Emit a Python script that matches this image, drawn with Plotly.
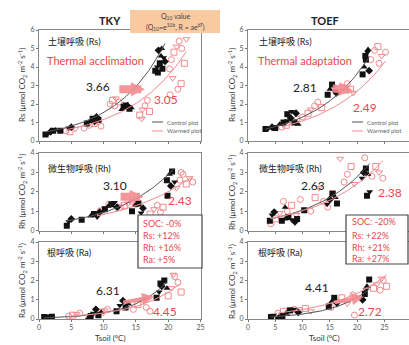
import numpy as np
import plotly.graph_objects as go

W, H = 409, 345

# ---------------- data ----------------
sites = ["TKY", "TOEF"]
components = ["Rs", "Rh", "Ra"]

tky_rs_ctrl_T = [1.0,1.4,1.8,2.2,2.6,3.3,4.6,5.0,7.4,7.9,8.3,8.6,8.9,9.2,12.8,13.1,13.4,13.7,14.0,14.3,18.0,18.3,18.5,18.7,18.9,19.1,19.3,19.5,18.4,19.0]
tky_rs_ctrl_R = [0.35,0.4,0.5,0.55,0.6,0.55,0.7,0.75,0.95,1.05,1.2,1.0,1.3,1.15,1.7,1.85,2.0,1.9,1.75,1.8,3.8,4.0,4.9,4.2,4.6,3.9,4.5,4.3,3.7,5.0]
tky_rs_warm_T = [4.2,4.8,5.6,7.0,7.8,8.5,9.2,9.6,11.0,11.4,11.9,12.4,11.7,15.6,16.0,16.4,16.8,17.1,15.9,20.2,20.5,20.9,21.3,21.7,22.1,22.5,20.7,21.5,20.3,22.0,22.8]
tky_rs_warm_R = [0.55,0.5,0.65,0.7,0.85,0.95,1.0,0.8,2.0,2.2,2.3,2.1,1.9,1.4,1.7,1.9,2.2,1.6,1.2,3.9,4.4,4.8,5.1,5.4,5.0,4.2,3.4,2.8,2.5,3.1,5.5]

toef_rs_ctrl_T = [3.2,3.8,4.4,5.0,5.8,6.5,7.2,7.8,8.5,9.2,7.2,8.0,8.8,14.6,15.0,15.4,15.8,16.2,21.0,21.3,21.6,21.9,22.2,21.5,22.0]
toef_rs_ctrl_R = [0.65,0.7,0.75,0.7,0.9,1.0,1.1,1.25,1.0,0.9,1.45,1.6,1.5,2.5,2.8,3.05,2.7,2.6,3.6,4.0,4.4,4.8,3.8,4.6,4.95]
toef_rs_warm_T = [6.2,7.0,8.0,9.0,10.0,11.0,11.5,12.2,12.8,13.5,16.8,17.5,18.2,18.8,19.3,22.5,23.2,23.8,24.5,25.2,24.0]
toef_rs_warm_R = [0.75,0.85,1.0,1.2,1.3,1.5,1.7,1.9,2.1,1.8,2.7,2.9,3.1,2.8,2.6,4.4,4.9,5.1,4.6,4.8,4.2]

tky_rh_ctrl_T = [4.3,4.6,5.0,6.6,8.0,8.5,9.0,9.4,10.2,10.7,11.2,11.7,12.1,14.4,14.9,15.4,15.8,16.1,19.8,20.2,20.6,21.0,20.4,19.9]
tky_rh_ctrl_R = [0.25,0.45,0.6,0.55,0.75,0.85,0.7,0.95,1.1,1.25,1.35,1.45,1.2,1.0,1.3,1.4,0.9,1.15,2.6,2.9,3.05,2.5,2.3,1.8]
tky_rh_warm_T = [9.0,9.6,10.2,10.8,12.6,13.2,13.8,14.4,15.0,17.2,17.8,18.3,18.8,19.2,21.3,21.8,22.3,22.8,23.3,23.8,22.0]
tky_rh_warm_R = [0.8,1.0,1.15,1.35,1.2,1.3,1.4,1.5,1.35,0.85,1.1,1.3,0.95,1.2,2.2,2.6,2.9,2.4,2.7,2.5,3.0]

toef_rh_ctrl_T = [4.0,4.4,4.8,6.2,6.8,7.4,8.0,8.6,9.0,6.8,10.3,14.5,15.0,15.5,16.0,16.3,20.9,21.2,21.6,22.0,21.8,22.3]
toef_rh_ctrl_R = [0.5,0.8,0.95,0.5,0.6,0.7,0.55,0.45,0.6,1.2,1.05,1.35,1.6,1.9,1.7,1.4,2.7,3.0,3.2,2.9,1.8,2.0]
toef_rh_warm_T = [4.2,5.0,5.8,6.5,7.2,8.0,8.8,9.6,11.5,12.3,13.0,13.8,14.6,15.5,16.9,17.6,18.2,18.9,19.5,21.4,22.7,23.4,24.0,24.7]
toef_rh_warm_R = [0.35,0.6,0.9,1.5,1.0,1.3,0.8,1.6,1.0,1.7,2.2,1.5,1.2,1.9,3.7,2.5,2.9,3.3,2.4,3.75,2.8,3.3,3.0,2.7]

tky_ra_ctrl_T = [0.8,1.2,1.6,2.0,7.6,8.0,8.4,8.8,9.2,9.6,12.0,12.5,13.0,13.4,13.8,18.2,18.6,19.0,19.4,19.8,18.8]
tky_ra_ctrl_R = [0.1,0.15,0.05,0.12,0.05,0.15,0.3,0.5,0.2,0.35,0.4,0.7,0.95,0.6,0.8,1.1,1.4,1.7,2.0,1.6,1.85]
tky_ra_warm_T = [4.6,5.2,5.8,6.3,9.0,9.6,10.2,10.6,14.6,15.3,16.0,16.6,17.2,20.0,20.5,21.0,21.5,22.0,20.8]
tky_ra_warm_R = [0.15,0.2,0.25,0.3,0.25,0.35,0.45,0.5,0.5,0.75,1.0,0.6,0.4,1.2,1.6,2.2,1.9,1.4,2.3]

toef_ra_ctrl_T = [4.2,4.7,5.6,6.3,7.0,7.7,8.4,9.2,14.8,15.3,15.8,16.3,21.0,21.4,21.8,22.2,21.6]
toef_ra_ctrl_R = [0.1,0.2,0.05,0.15,0.3,0.45,0.5,0.35,0.65,0.9,1.1,0.75,1.0,1.3,1.7,2.05,1.5]
toef_ra_warm_T = [5.5,6.5,7.5,8.5,9.5,10.5,11.5,15.2,16.2,17.2,18.2,19.2,19.5,23.0,23.6,24.2,24.8,25.4,24.5]
toef_ra_warm_R = [0.3,0.4,0.35,0.5,0.45,0.55,0.4,0.6,0.9,1.1,0.8,1.25,0.2,1.6,1.8,1.5,2.0,1.7,2.1]

# Q10 values shown on the chart and the fitted coefficient a (R = a e^{bT}, Q10 = e^{10b})
q10_ctrl = [3.66, 2.81, 3.10, 2.63, 6.31, 4.41]
q10_warm = [3.05, 2.49, 2.43, 2.38, 4.45, 2.72]
a_ctrl = [0.42, 0.46, 0.30, 0.40, 0.05, 0.0575]
a_warm = [0.38, 0.434, 0.338, 0.424, 0.07, 0.18]

soc_tky = ["SOC: -0%", "Rs: +12%", "Rh: +16%", "Ra: +5%"]
soc_toef = ["SOC: -20%", "Rs: +22%", "Rh: +21%", "Ra: +27%"]

x_ticks = [0, 5, 10, 15, 20, 25, 30]
y_ticks_rs = [0, 1, 2, 3, 4, 5, 6]
y_ticks_r = [0, 1, 2, 3, 4]

# panel order: TKY Rs, TOEF Rs, TKY Rh, TOEF Rh, TKY Ra, TOEF Ra
panels = [
    (tky_rs_ctrl_T, tky_rs_ctrl_R, tky_rs_warm_T, tky_rs_warm_R),
    (toef_rs_ctrl_T, toef_rs_ctrl_R, toef_rs_warm_T, toef_rs_warm_R),
    (tky_rh_ctrl_T, tky_rh_ctrl_R, tky_rh_warm_T, tky_rh_warm_R),
    (toef_rh_ctrl_T, toef_rh_ctrl_R, toef_rh_warm_T, toef_rh_warm_R),
    (tky_ra_ctrl_T, tky_ra_ctrl_R, tky_ra_warm_T, tky_ra_warm_R),
    (toef_ra_ctrl_T, toef_ra_ctrl_R, toef_ra_warm_T, toef_ra_warm_R),
]

# ---------------- styles ----------------
RED = "#e8484e"
PINK = "#f28a8e"
GRAY = "#555555"
FONT = "Lato, Noto Sans CJK JP, sans-serif"
ctrl_symbols = ["square", "triangle-down", "diamond", "square", "triangle-up"]
warm_symbols = ["circle-open", "square-open", "triangle-down-open", "circle-open"]

def P(px, py):
    return px / W, 1 - py / H

xdom = [[39 / W, 200.5 / W], [248 / W, 1.0]]
xrng = [[0, 25], [0, 29.5]]
ydom = [[1 - 141 / H, 1 - 30 / H], [1 - 230.5 / H, 1 - 153 / H], [1 - 319 / H, 1 - 242 / H]]
yrng = [[0, 6], [0, 4], [0, 4]]

fig = go.Figure()
layout = dict(width=W, height=H, margin=dict(l=0, r=0, t=0, b=0, autoexpand=False),
              paper_bgcolor="white", plot_bgcolor="white", showlegend=False,
              font=dict(family=FONT, color="#333"))

for i, (cT, cR, wT, wR) in enumerate(panels):
    row, col = i // 2, i % 2
    xa, ya = f"x{i+1}", f"y{i+1}"
    fig.add_trace(go.Scatter(x=wT, y=wR, mode="markers", xaxis=xa, yaxis=ya,
                             marker=dict(symbol=[warm_symbols[k % 4] for k in range(len(wT))],
                                         size=6, color=PINK, line=dict(width=1, color=PINK))))
    fig.add_trace(go.Scatter(x=cT, y=cR, mode="markers", xaxis=xa, yaxis=ya,
                             marker=dict(symbol=[ctrl_symbols[k % 5] for k in range(len(cT))],
                                         size=6, color="#111111")))
    for T, q, a, colr in [(cT, q10_ctrl[i], a_ctrl[i], GRAY), (wT, q10_warm[i], a_warm[i], PINK)]:
        tt = np.linspace(min(T), max(T), 60)
        fig.add_trace(go.Scatter(x=tt, y=a * np.exp(np.log(q) / 10 * tt), mode="lines",
                                 xaxis=xa, yaxis=ya, line=dict(color=colr, width=1)))
    sfx = "" if i == 0 else str(i + 1)
    layout["xaxis" + sfx] = dict(domain=xdom[col], range=xrng[col], anchor=ya, automargin=False,
                                 tickvals=x_ticks, showticklabels=(row == 2),
                                 ticks="outside", ticklen=2, tickcolor="#777",
                                 tickfont=dict(size=7, color="#555"),
                                 showgrid=False, zeroline=False, showline=True,
                                 linecolor="#888", linewidth=1, mirror=True)
    layout["yaxis" + sfx] = dict(domain=ydom[row], range=yrng[row], anchor=xa, automargin=False,
                                 tickvals=(y_ticks_rs if row == 0 else y_ticks_r),
                                 ticks="outside", ticklen=2, tickcolor="#777",
                                 tickfont=dict(size=7, color="#555"),
                                 showgrid=False, zeroline=False, showline=True,
                                 linecolor="#888", linewidth=1, mirror=True)

ann = []
def text(px, py, s, size=9, color="#222", xanchor="left", bold=False, angle=0):
    x, y = P(px, py)
    ann.append(dict(x=x, y=y, xref="paper", yref="paper", text=(f"<b>{s}</b>" if bold else s),
                    showarrow=False, xanchor=xanchor, yanchor="middle", textangle=angle,
                    borderpad=0, font=dict(size=size, color=color, family=FONT)))

# titles
text(110, 20, sites[0], 11, "#222", "center", True)
text(325, 20, sites[1], 11, "#222", "center", True)

# y-axis titles
for col, px in enumerate([22, 232]):
    for row, (comp, py) in enumerate(zip(components, [85, 192, 281])):
        text(px, py, f"{comp} (μmol CO<sub>2</sub> m<sup>-2</sup> s<sup>-1</sup>)", 8, "#333",
             "center", False, -90)
# x-axis titles
text(111, 338, "Tsoil (°C)", 8, "#333", "center")
text(324, 338, "Tsoil (°C)", 8, "#333", "center")

# panel labels
for px in [47, 258]:
    text(px, 42, "土壌呼吸 (Rs)", 9, "#222")
    text(px, 168, "微生物呼吸 (Rh)", 9, "#222")
    text(px - 1, 253, "根呼吸 (Ra)", 9, "#222")
text(46, 60, "Thermal acclimation", 11, RED)
text(257, 60, "Thermal adaptation", 11, RED)

# Q10 labels
q_ctrl_pos = [(98, 86), (305, 88), (115, 185), (313, 185), (108, 290), (317, 287)]
q_warm_pos = [(166, 99), (365, 107), (180, 200), (390, 193), (165, 311), (370, 311)]
for i in range(6):
    text(*q_ctrl_pos[i], f"{q10_ctrl[i]:.2f}", 12, "#222", "center")
    text(*q_warm_pos[i], f"{q10_warm[i]:.2f}", 12, RED, "center")

# block arrows (data coords)
arrows = [(1, 12.2, 2.8, 16.4, 2.8, 8), (2, 15.2, 2.85, 19.2, 2.75, 8),
          (3, 12.4, 1.74, 16.2, 1.74, 8), (5, 12.8, 0.85, 17.8, 1.15, 4),
          (6, 15.6, 0.85, 21.2, 1.15, 4)]
for k, x0, y0, x1, y1, w in arrows:
    ann.append(dict(x=x1, y=y1, ax=x0, ay=y0, xref=f"x{k}", yref=f"y{k}",
                    axref=f"x{k}", ayref=f"y{k}", showarrow=True, text="",
                    arrowhead=2, arrowsize=(0.35 if w > 5 else 0.6), arrowwidth=w,
                    arrowcolor=PINK, opacity=0.9))

# Q10 orange box
shapes = []
x0, y1 = P(130, 10)
x1, y0 = P(220, 33)
shapes.append(dict(type="rect", xref="paper", yref="paper", x0=x0, x1=x1, y0=y0, y1=y1,
                   fillcolor="#f9caa0", line=dict(width=0)))
text(175, 16, "Q<sub>10</sub> value", 7, "#444", "center")
text(175, 27, "(Q<sub>10</sub>=e<sup>10b</sup>, R = ae<sup>bT</sup>)", 7, "#444", "center")

# legend in top panels
for lx in [152, 352]:
    for j, (lab, c) in enumerate([("Control plot", GRAY), ("Warmed plot", PINK)]):
        py = 122 + j * 9
        a0, b0 = P(lx, py)
        a1, _ = P(lx + 11, py)
        shapes.append(dict(type="line", xref="paper", yref="paper", x0=a0, x1=a1, y0=b0, y1=b0,
                           line=dict(color=c, width=1)))
        text(lx + 14, py, lab, 6, "#666")

# SOC boxes
for (bx0, by0, bx1, by1, lines, tx, tys) in [
        (138, 215, 202, 268, soc_tky, 142, [223, 235, 247, 259]),
        (346, 215, 408, 264, soc_toef, 351, [222, 235, 247, 258])]:
    a0, b1 = P(bx0, by0)
    a1, b0 = P(bx1, by1)
    shapes.append(dict(type="rect", xref="paper", yref="paper", x0=a0, x1=a1, y0=b0, y1=b1,
                       fillcolor="white", line=dict(color="#444", width=1.2)))
    for s, ty in zip(lines, tys):
        text(tx, ty, s, 9, RED)

layout["annotations"] = ann
layout["shapes"] = shapes
fig.update_layout(**layout)
fig.write_html("out.html", config={"displayModeBar": False},
               post_script="document.body.style.margin='0';document.body.style.overflow='hidden';")
